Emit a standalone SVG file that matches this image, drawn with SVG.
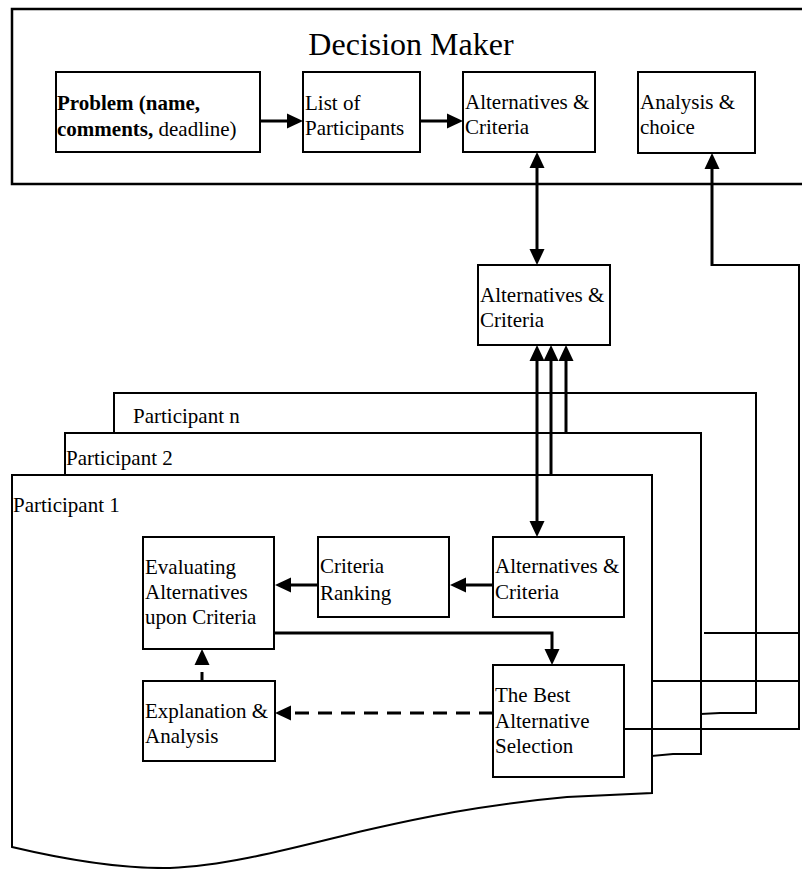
<svg xmlns="http://www.w3.org/2000/svg" width="802" height="869" viewBox="0 0 802 869">
<style>
text{font-family:"Liberation Serif","Times New Roman",serif;font-size:21px;fill:#000}
.title{font-size:32px}
.b{font-weight:bold}
.box{fill:#fff;stroke:#000;stroke-width:2}
.part{fill:#fff;stroke:#000;stroke-width:2;stroke-linejoin:miter}
.ar{fill:none;stroke:#000;stroke-width:3;marker-end:url(#ah)}
.bi{fill:none;stroke:#000;stroke-width:3;marker-start:url(#ah);marker-end:url(#ah)}
.ln{fill:none;stroke:#000;stroke-width:2}
.da{stroke-dasharray:14 9}
</style>
<defs>
<marker id="ah" viewBox="0 0 16 16" markerWidth="16" markerHeight="16" refX="6" refY="8" orient="auto-start-reverse" markerUnits="userSpaceOnUse">
<path d="M0,0.5 L16,8 L0,15.5 Z" fill="#000"/>
</marker>
</defs>

<g id="decision-maker">
<rect x="12" y="9" width="800" height="175" fill="#fff" stroke="#000" stroke-width="2.5"/>
<text class="title" x="411" y="55" text-anchor="middle">Decision Maker</text>
</g>

<g id="problem">
<rect class="box" x="56" y="72" width="204" height="80"/>
<text x="57" y="110"><tspan class="b">Problem (name,</tspan></text>
<text x="57" y="136"><tspan class="b">comments,</tspan> deadline)</text>
</g>

<g id="list-participants">
<rect class="box" x="303" y="72" width="117" height="80"/>
<text x="305" y="110">List of</text>
<text x="305" y="135">Participants</text>
</g>

<g id="dm-alternatives">
<rect class="box" x="463" y="72" width="132" height="80"/>
<text x="465" y="109">Alternatives &amp;</text>
<text x="465" y="134">Criteria</text>
</g>

<g id="analysis-choice">
<rect class="box" x="638" y="72" width="117" height="81" stroke-width="2.5"/>
<text x="640" y="109">Analysis &amp;</text>
<text x="640" y="134">choice</text>
</g>

<g id="shared-alternatives">
<rect class="box" x="478" y="265" width="132" height="80"/>
<text x="480" y="302">Alternatives &amp;</text>
<text x="480" y="327">Criteria</text>
</g>

<g id="participant-n">
<path class="part" d="M114,433 V393 H756 V713 H720 L701,714 V440"/>
<text x="133" y="423">Participant n</text>
</g>

<g id="participant-2">
<path class="part" d="M65,475 V433 H701 V754 H673 L652,756 V480"/>
<text x="66" y="465">Participant 2</text>
</g>

<g id="participant-1">
<path class="part" d="M12,475 H652 V793 L567,797 C480,805 420,818 367,830 C300,846 230,866 170,868 C110,869 50,856 12,847 Z"/>
<text x="13" y="512">Participant 1</text>
</g>

<g id="p1-alternatives">
<rect class="box" x="493" y="537" width="131" height="80"/>
<text x="495" y="573">Alternatives &amp;</text>
<text x="495" y="599">Criteria</text>
</g>

<g id="criteria-ranking">
<rect class="box" x="318" y="537" width="131" height="80"/>
<text x="320" y="573">Criteria</text>
<text x="320" y="600">Ranking</text>
</g>

<g id="evaluating">
<rect class="box" x="143" y="537" width="131" height="112"/>
<text x="145" y="574">Evaluating</text>
<text x="145" y="599">Alternatives</text>
<text x="145" y="624">upon Criteria</text>
</g>

<g id="explanation">
<rect class="box" x="143" y="681" width="132" height="80"/>
<text x="145" y="718">Explanation &amp;</text>
<text x="145" y="743">Analysis</text>
</g>

<g id="best-selection">
<rect class="box" x="493" y="665" width="131" height="112"/>
<text x="495" y="702">The Best</text>
<text x="495" y="728">Alternative</text>
<text x="495" y="753">Selection</text>
</g>

<g id="connectors">
<line class="ar" x1="260" y1="121" x2="293" y2="121"/>
<line class="ar" x1="420" y1="121" x2="453" y2="121"/>
<line class="bi" x1="537" y1="162" x2="537" y2="255"/>
<polyline class="ln" points="624,729 799,729 799,265 712,265"/>
<line class="ar" x1="712" y1="266" x2="712" y2="163"/>
<line class="ln" x1="652" y1="681" x2="799" y2="681"/>
<line class="ln" x1="704" y1="633" x2="799" y2="633"/>
<line class="bi" x1="537" y1="355" x2="537" y2="527"/>
<line class="ar" x1="551" y1="475" x2="551" y2="355"/>
<line class="ar" x1="566" y1="433" x2="566" y2="355"/>
<line class="ar" x1="493" y1="585" x2="460" y2="585"/>
<line class="ar" x1="318" y1="585" x2="285" y2="585"/>
<polyline class="ar" stroke-width="2.5" points="275,633 552,633 552,655"/>
<line class="ar da" x1="493" y1="713" x2="285" y2="713"/>
<line class="ar" stroke-dasharray="9 8" x1="202" y1="681" x2="202" y2="659"/>
</g>
</svg>
